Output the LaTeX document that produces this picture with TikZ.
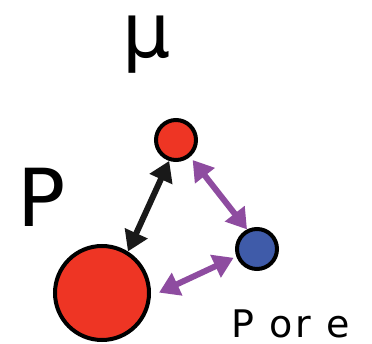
\documentclass[tikz,border=0pt]{standalone}
\usepackage{fontspec}
\setmainfont{DejaVu Sans}
\newfontfamily\widefont[LetterSpace=8]{DejaVu Sans}
\usetikzlibrary{arrows.meta}
\definecolor{pred}{RGB}{238,53,36}
\definecolor{eblue}{RGB}{63,91,169}
\definecolor{link}{RGB}{142,76,160}
\begin{document}
\begin{tikzpicture}[x=1pt,y=-1pt,
  ball/.style={circle,draw=black,line width=4pt,inner sep=0pt},
  bond/.style={line width=6pt,{Triangle[width=24pt,length=20pt]}-{Triangle[width=24pt,length=20pt]}}]
  \useasboundingbox (0,0) rectangle (372,344);
  % particles
  \node[ball,fill=pred,minimum size=94pt] (big) at (102,293) {};
  \node[ball,fill=pred,minimum size=40pt] (mu) at (176,140) {};
  \node[ball,fill=eblue,minimum size=40pt] (third) at (257,249) {};
  % labels
  \node[anchor=base,inner sep=0pt,text height=46pt,text depth=16pt,font=\fontsize{76}{76}\selectfont] (mulabel) at (147,58) {µ};
  \node[anchor=base west,inner sep=0pt,text height=58pt,text depth=0pt,font=\fontsize{80}{80}\selectfont] (plabel) at (17,227) {P};
  \node[anchor=base west,inner sep=0pt,text height=27pt,text depth=0pt,font=\widefont\fontsize{38}{38}\selectfont] (thirdlabel) at (231,338) {P or e};
  % interactions
  \draw[bond,black!90] (big.58) -- (mu.252);
  \draw[bond,link,shorten <=4pt] (mu.310) -- (third.117);
  \draw[bond,link,shorten <=9pt,shorten >=3pt] (big.-4) -- (third.200);
\end{tikzpicture}
\end{document}
